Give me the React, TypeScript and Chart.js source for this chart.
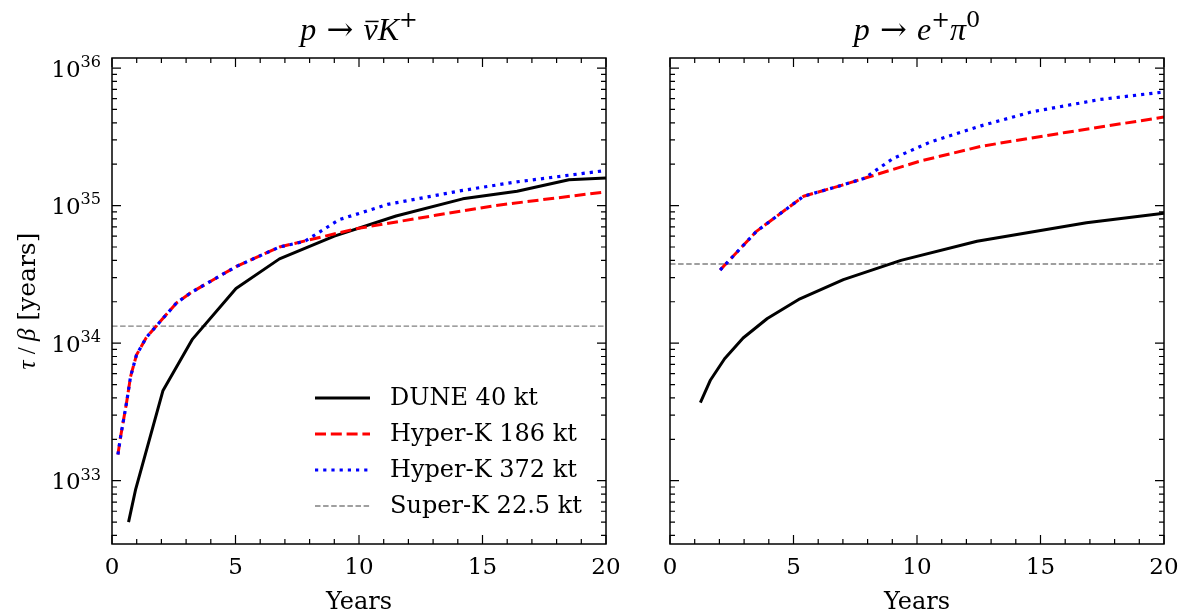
import React, { useEffect, useRef } from 'react';
import { Chart, registerables } from 'chart.js';

Chart.register(...registerables);

// ---------------- data ----------------
// Left panel: p -> nu-bar K+
const KPLUS_DUNE_YEARS = [0.67, 0.96, 2.06, 3.26, 5.02, 6.78, 9.0, 11.5, 14.2, 16.4, 18.5, 20.0];
const KPLUS_DUNE_TAU = [5.0e32, 8.7e32, 4.5e33, 1.07e34, 2.5e34, 4.1e34, 6.0e34, 8.4e34, 1.12e35, 1.27e35, 1.54e35, 1.59e35];
const KPLUS_HK186_YEARS = [0.24, 0.35, 0.59, 0.75, 0.99, 1.39, 2.03, 2.62, 3.23, 5.02, 6.78, 9.9, 13.1, 15.5, 20.0];
const KPLUS_HK186_TAU = [1.55e33, 2.1e33, 3.7e33, 5.7e33, 8.2e33, 1.1e34, 1.49e34, 1.97e34, 2.35e34, 3.6e34, 5.0e34, 6.8e34, 8.5e34, 1.0e35, 1.26e35];
const KPLUS_HK372_YEARS = [0.24, 0.35, 0.59, 0.75, 0.99, 1.39, 2.03, 2.62, 3.23, 5.02, 6.78, 7.8, 9.2, 11.15, 14.2, 16.3, 20.0];
const KPLUS_HK372_TAU = [1.55e33, 2.1e33, 3.7e33, 5.7e33, 8.2e33, 1.1e34, 1.49e34, 1.97e34, 2.35e34, 3.6e34, 5.0e34, 5.5e34, 7.9e34, 1.02e35, 1.29e35, 1.48e35, 1.8e35];
const KPLUS_SUPERK_TAU = 1.33e34;

// Right panel: p -> e+ pi0
const EPI_DUNE_YEARS = [1.23, 1.64, 2.21, 2.96, 3.94, 5.26, 7.02, 9.35, 12.43, 16.86, 20.0];
const EPI_DUNE_TAU = [3.7e33, 5.4e33, 7.7e33, 1.09e34, 1.51e34, 2.1e34, 2.9e34, 4.0e34, 5.5e34, 7.5e34, 8.8e34];
const EPI_HK186_YEARS = [2.03, 3.5, 5.41, 6.98, 7.87, 10.1, 12.6, 16.0, 20.0];
const EPI_HK186_TAU = [3.4e34, 6.5e34, 1.17e35, 1.41e35, 1.58e35, 2.1e35, 2.7e35, 3.4e35, 4.4e35];
const EPI_HK372_YEARS = [2.03, 3.5, 5.41, 6.98, 7.87, 9.03, 10.54, 12.59, 14.64, 17.38, 20.0];
const EPI_HK372_TAU = [3.4e34, 6.5e34, 1.17e35, 1.41e35, 1.58e35, 2.2e35, 2.9e35, 3.8e35, 4.8e35, 5.9e35, 6.7e35];
const EPI_SUPERK_TAU = 3.76e34;

const SERIES_LABELS = ['DUNE 40 kt', 'Hyper-K 186 kt', 'Hyper-K 372 kt', 'Super-K 22.5 kt'];
const X_TICKS = [0, 5, 10, 15, 20];
const Y_TICK_EXPONENTS = [33, 34, 35, 36];
const X_MIN = 0;
const X_MAX = 20;
const Y_MIN = Math.pow(10, 32.54);
const Y_MAX = Math.pow(10, 36.073);

// ---------------- styles ----------------
const SERIF = '"DejaVu Serif", "Liberation Serif", serif';
const MATH = '"Liberation Serif", "DejaVu Serif", serif';
const STYLES = [
  { color: '#000000', width: 3, dash: [] as number[] },
  { color: '#ff0000', width: 3, dash: [11, 4.8] },
  { color: '#0000ff', width: 3.2, dash: [3.2, 5] },
  { color: '#808080', width: 1.4, dash: [5.5, 2.6] },
];

type Seg = { t: string; it?: boolean; sup?: boolean; bar?: boolean; font?: string };

function segFont(s: Seg, size: number) {
  const sz = s.sup ? size * 0.7 : size;
  const fam = s.font ? s.font : s.it ? MATH : SERIF;
  return (s.it ? 'italic ' : '') + sz + 'px ' + fam;
}

function drawMath(ctx: CanvasRenderingContext2D, segs: Seg[], x: number, y: number, size: number, align: 'center' | 'left' | 'right') {
  let total = 0;
  const widths = segs.map((s) => {
    ctx.font = segFont(s, size);
    const w = ctx.measureText(s.t).width;
    total += w;
    return w;
  });
  let cx = align === 'center' ? x - total / 2 : align === 'right' ? x - total : x;
  ctx.textAlign = 'left';
  ctx.textBaseline = 'alphabetic';
  segs.forEach((s, i) => {
    ctx.font = segFont(s, size);
    const yy = s.sup ? y - size * 0.42 : y;
    ctx.fillText(s.t, cx, yy);
    if (s.bar) {
      ctx.save();
      ctx.lineWidth = 1.5;
      ctx.beginPath();
      const by = y - size * 0.58;
      ctx.moveTo(cx + 2, by);
      ctx.lineTo(cx + widths[i] + 1, by);
      ctx.stroke();
      ctx.restore();
    }
    cx += widths[i];
  });
}

type PanelSpec = {
  title: Seg[];
  showYLabels: boolean;
  showLegend: boolean;
};

const MAJOR_LEN = 9;
const MINOR_LEN = 5;

function decorPlugin(p: PanelSpec) {
  return {
    id: 'decor',
    afterDatasetsDraw(chart: any) {
      const ctx: CanvasRenderingContext2D = chart.ctx;
      const a = chart.chartArea;
      const xs = chart.scales.x;
      const ys = chart.scales.y;
      ctx.save();
      ctx.strokeStyle = '#000';
      ctx.fillStyle = '#000';
      ctx.lineCap = 'butt';
      ctx.setLineDash([]);
      // ticks
      ctx.lineWidth = 1.2;
      ctx.beginPath();
      for (let t = X_MIN; t <= X_MAX; t += 1) {
        const px = xs.getPixelForValue(t);
        const len = X_TICKS.includes(t) ? MAJOR_LEN : MINOR_LEN;
        ctx.moveTo(px, a.bottom);
        ctx.lineTo(px, a.bottom - len);
        ctx.moveTo(px, a.top);
        ctx.lineTo(px, a.top + len);
      }
      for (let e = 32; e <= 36; e++) {
        for (let m = 1; m <= 9; m++) {
          const v = m * Math.pow(10, e);
          if (v < Y_MIN || v > Y_MAX) continue;
          const py = ys.getPixelForValue(v);
          const len = m === 1 ? MAJOR_LEN : MINOR_LEN;
          ctx.moveTo(a.left, py);
          ctx.lineTo(a.left + len, py);
          ctx.moveTo(a.right, py);
          ctx.lineTo(a.right - len, py);
        }
      }
      ctx.stroke();
      // frame
      ctx.lineWidth = 1.5;
      ctx.strokeRect(a.left, a.top, a.right - a.left, a.bottom - a.top);

      // x tick labels
      ctx.font = '23px ' + SERIF;
      ctx.textAlign = 'center';
      ctx.textBaseline = 'alphabetic';
      X_TICKS.forEach((t) => {
        ctx.fillText(String(t), xs.getPixelForValue(t), a.bottom + 30);
      });
      // y tick labels
      if (p.showYLabels) {
        Y_TICK_EXPONENTS.forEach((e) => {
          const py = ys.getPixelForValue(Math.pow(10, e));
          drawMath(ctx, [{ t: '10' }, { t: String(e), sup: true }], a.left - 11, py + 8.5, 23, 'right');
        });
        // y axis title (rotated)
        ctx.save();
        ctx.translate(35, (a.top + a.bottom) / 2);
        ctx.rotate(-Math.PI / 2);
        drawMath(
          ctx,
          [{ t: 'τ', it: true }, { t: ' / ', font: MATH }, { t: 'β', it: true }, { t: ' [years]' }],
          0,
          0,
          25,
          'center'
        );
        ctx.restore();
      }
      // x axis title
      ctx.font = '24px ' + SERIF;
      ctx.textAlign = 'center';
      ctx.textBaseline = 'alphabetic';
      ctx.fillText('Years', (a.left + a.right) / 2, 609);
      // title
      drawMath(ctx, p.title, (a.left + a.right) / 2, 40, 32, 'center');

      // legend
      if (p.showLegend) {
        const rows = [398, 434, 470, 506];
        SERIES_LABELS.forEach((label, i) => {
          const st = STYLES[i];
          ctx.save();
          ctx.strokeStyle = st.color;
          ctx.lineWidth = st.width;
          ctx.setLineDash(st.dash);
          ctx.beginPath();
          ctx.moveTo(315, rows[i]);
          ctx.lineTo(370, rows[i]);
          ctx.stroke();
          ctx.restore();
          ctx.font = '24px ' + SERIF;
          ctx.textAlign = 'left';
          ctx.textBaseline = 'middle';
          ctx.fillText(label, 390, rows[i] + 1);
        });
      }
      ctx.restore();
    },
  };
}

function toXY(xs: number[], ys: number[]) {
  return xs.map((x, i) => ({ x, y: ys[i] }));
}

function dataset(label: string, xs: number[], ys: number[], styleIdx: number) {
  const st = STYLES[styleIdx];
  return {
    label,
    data: toXY(xs, ys),
    borderColor: st.color,
    backgroundColor: st.color,
    borderWidth: st.width,
    borderDash: st.dash,
    borderCapStyle: 'butt',
    borderJoinStyle: 'round',
    pointRadius: 0,
    fill: false,
    tension: 0,
  };
}

function makeConfig(
  dune: [number[], number[]],
  hk186: [number[], number[]],
  hk372: [number[], number[]],
  superK: number,
  spec: PanelSpec,
  padding: { left: number; right: number; top: number; bottom: number }
): any {
  return {
    type: 'line',
    data: {
      datasets: [
        dataset(SERIES_LABELS[2], hk372[0], hk372[1], 2),
        dataset(SERIES_LABELS[1], hk186[0], hk186[1], 1),
        dataset(SERIES_LABELS[0], dune[0], dune[1], 0),
        dataset(SERIES_LABELS[3], [X_MIN, X_MAX], [superK, superK], 3),
      ],
    },
    options: {
      responsive: false,
      animation: false,
      events: [],
      layout: { padding },
      scales: {
        x: { type: 'linear', min: X_MIN, max: X_MAX, display: false },
        y: { type: 'logarithmic', min: Y_MIN, max: Y_MAX, display: false },
      },
      plugins: {
        legend: { display: false },
        tooltip: { enabled: false },
        title: { display: false },
      },
    },
    plugins: [decorPlugin(spec)],
  };
}

function Panel({ left, width, build }: { left: number; width: number; build: () => any }) {
  const ref = useRef<HTMLCanvasElement | null>(null);
  useEffect(() => {
    if (!ref.current) return;
    const chart = new Chart(ref.current, build());
    return () => chart.destroy();
  }, []);
  return (
    <canvas
      ref={ref}
      width={width}
      height={615}
      style={{ position: 'absolute', left, top: 0, width, height: 615 }}
    />
  );
}

export default function App() {
  return (
    <div style={{ position: 'fixed', left: 0, top: 0, width: 1182, height: 615, background: '#ffffff', overflow: 'hidden' }}>
      <Panel
        left={0}
        width={640}
        build={() =>
          makeConfig(
            [KPLUS_DUNE_YEARS, KPLUS_DUNE_TAU],
            [KPLUS_HK186_YEARS, KPLUS_HK186_TAU],
            [KPLUS_HK372_YEARS, KPLUS_HK372_TAU],
            KPLUS_SUPERK_TAU,
            {
              title: [{ t: 'p', it: true }, { t: ' → ' }, { t: 'ν', it: true, bar: true }, { t: 'K', it: true }, { t: '+', sup: true }],
              showYLabels: true,
              showLegend: true,
            },
            { left: 112, right: 34, top: 58, bottom: 71 }
          )
        }
      />
      <Panel
        left={640}
        width={542}
        build={() =>
          makeConfig(
            [EPI_DUNE_YEARS, EPI_DUNE_TAU],
            [EPI_HK186_YEARS, EPI_HK186_TAU],
            [EPI_HK372_YEARS, EPI_HK372_TAU],
            EPI_SUPERK_TAU,
            {
              title: [{ t: 'p', it: true }, { t: ' → ' }, { t: 'e', it: true }, { t: '+', sup: true }, { t: 'π', it: true }, { t: '0', sup: true }],
              showYLabels: false,
              showLegend: false,
            },
            { left: 30, right: 18, top: 58, bottom: 71 }
          )
        }
      />
    </div>
  );
}
